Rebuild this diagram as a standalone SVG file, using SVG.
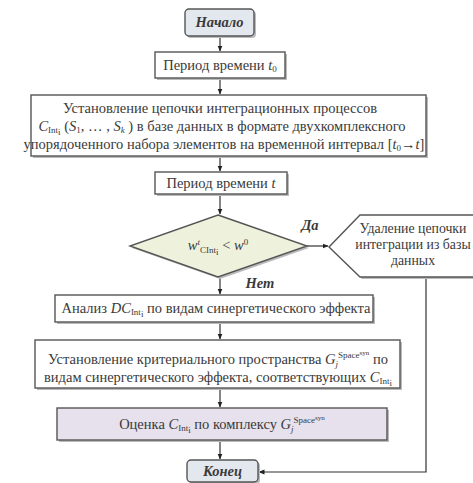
<svg xmlns="http://www.w3.org/2000/svg" width="473" height="483" viewBox="0 0 473 483" font-family="'Liberation Serif', 'Times New Roman', 'DejaVu Serif', serif">
<style>
text{font-family:"Liberation Serif","Times New Roman","DejaVu Serif",serif;font-size:14.5px;fill:#3a3a3a}
.c{text-anchor:middle}
.bi{font-weight:bold;font-style:italic}
.it{font-style:italic}
.box{fill:#fff;stroke:#555;stroke-width:1.4}
.sh{fill:#bbb}
.line{fill:none;stroke:#333;stroke-width:1.2}
.sub{font-size:9px}
.sup2{font-size:7px}
.hx{font-size:13.8px}
</style>
<defs>
<marker id="ah" viewBox="0 0 6 6" refX="5.5" refY="3" markerWidth="5" markerHeight="5" orient="auto">
<path d="M0,0.5 L6,3 L0,5.5 z" fill="#222"/>
</marker>
</defs>
<rect width="473" height="483" fill="#fff"/>

<g id="connectors">
<path class="line" d="M220,36 V51" marker-end="url(#ah)"/>
<path class="line" d="M220,78 V94" marker-end="url(#ah)"/>
<path class="line" d="M220,156 V171" marker-end="url(#ah)"/>
<path class="line" d="M220,194 V214" marker-end="url(#ah)"/>
<path class="line" d="M307,246 H328" marker-end="url(#ah)"/>
<path class="line" d="M220,277 V294" marker-end="url(#ah)"/>
<path class="line" d="M220,322 V339" marker-end="url(#ah)"/>
<path class="line" d="M220,388 V407" marker-end="url(#ah)"/>
<path class="line" d="M220,440 V459" marker-end="url(#ah)"/>
<path class="line" d="M426,277 V472 H259" marker-end="url(#ah)"/>
<text x="310" y="230" class="bi c">Да</text>
<text x="260" y="288" class="bi c">Нет</text>
</g>

<g id="start">
<rect x="187" y="11" width="69" height="27" rx="4" class="sh"/>
<rect x="185" y="9" width="69" height="27" rx="4" fill="#e3e8ef" stroke="#555" stroke-width="1.4"/>
<text x="219.5" y="27" class="bi c">Начало</text>
</g>

<g id="period0">
<rect x="157" y="54" width="130" height="26" class="sh"/>
<rect x="155" y="52" width="130" height="26" class="box"/>
<text x="220" y="70" class="c">Период времени <tspan class="it">t</tspan><tspan class="sub" dy="2">0</tspan></text>
</g>

<g id="chain">
<rect x="33" y="97" width="395" height="61" class="sh"/>
<rect x="31" y="95" width="395" height="61" class="box"/>
<text x="220" y="113" class="c">Установление цепочки интеграционных процессов</text>
<text x="222" y="131" class="c"><tspan class="it">C</tspan><tspan class="sub" dy="2">Int</tspan><tspan class="sub" dy="2">i</tspan><tspan dy="-4"> (</tspan><tspan class="it">S</tspan><tspan class="sub" dy="2">1</tspan><tspan dy="-2">, … , </tspan><tspan class="it">S</tspan><tspan class="sub it" dy="2">k</tspan><tspan dy="-2"> ) в базе данных в формате двухкомплексного</tspan></text>
<text x="224" y="149" class="c">упорядоченного набора элементов на временной интервал [<tspan class="it">t</tspan><tspan class="sub" dy="2">0</tspan><tspan dy="-2">→</tspan><tspan class="it">t</tspan>]</text>
</g>

<g id="periodt">
<rect x="157" y="174" width="132" height="22" class="sh"/>
<rect x="155" y="172" width="132" height="22" class="box"/>
<text x="221" y="188" class="c">Период времени <tspan class="it">t</tspan></text>
</g>

<g id="decision">
<polygon points="220,217 309,248 220,279 132,248" class="sh"/>
<polygon points="218,215 307,246 218,277 130,246" fill="#eef2dc" stroke="#555" stroke-width="1.4"/>
<text x="218" y="250" class="c"><tspan class="it">w</tspan><tspan class="sub it" dy="-5">t</tspan><tspan class="sub" dy="8">CInt</tspan><tspan class="sub" dy="2">i</tspan><tspan dy="-5">  &lt; </tspan><tspan class="it">w</tspan><tspan class="sub" dy="-5">0</tspan></text>
</g>

<g id="delete">
<polygon points="331,249 362,217 500,217 500,279 362,279" class="sh"/>
<polygon points="329,247 360,215 498,215 498,277 360,277" class="box"/>
<text x="413" y="233" class="c hx">Удаление цепочки</text>
<text x="413" y="249" class="c hx">интеграции из базы</text>
<text x="413" y="265" class="c hx">данных</text>
</g>

<g id="analysis">
<rect x="57" y="297" width="318" height="27" class="sh"/>
<rect x="55" y="295" width="318" height="27" class="box"/>
<text x="216" y="313" class="c">Анализ <tspan class="it">DC</tspan><tspan class="sub" dy="2">Int</tspan><tspan class="sub" dy="2">i</tspan><tspan dy="-4"> по видам синергетического эффекта</tspan></text>
</g>

<g id="criterion">
<rect x="37" y="342" width="365" height="48" class="sh"/>
<rect x="35" y="340" width="365" height="48" class="box"/>
<text x="218" y="364" class="c">Установление критериального пространства <tspan class="it">G</tspan><tspan class="sub it" dy="3">j</tspan><tspan class="sub" dy="-9">Space</tspan><tspan class="sup2" dy="-3">syn</tspan><tspan dy="9">  по</tspan></text>
<text x="218" y="382" class="c">видам синергетического эффекта, соответствующих <tspan class="it">C</tspan><tspan class="sub" dy="2">Int</tspan><tspan class="sub" dy="2">i</tspan></text>
</g>

<g id="evaluation">
<rect x="59" y="410" width="330" height="32" class="sh"/>
<rect x="57" y="408" width="330" height="32" fill="#e6e1ec" stroke="#555" stroke-width="1.4"/>
<text x="222" y="429" class="c">Оценка <tspan class="it">C</tspan><tspan class="sub" dy="2">Int</tspan><tspan class="sub" dy="2">i</tspan><tspan dy="-4"> по комплексу </tspan><tspan class="it">G</tspan><tspan class="sub it" dy="3">j</tspan><tspan class="sub" dy="-9">Space</tspan><tspan class="sup2" dy="-3">syn</tspan></text>
</g>

<g id="end">
<rect x="189" y="462" width="71" height="22" rx="4" class="sh"/>
<rect x="187" y="460" width="71" height="22" rx="4" fill="#e3e8ef" stroke="#555" stroke-width="1.4"/>
<text x="222.5" y="476" class="bi c">Конец</text>
</g>
</svg>
